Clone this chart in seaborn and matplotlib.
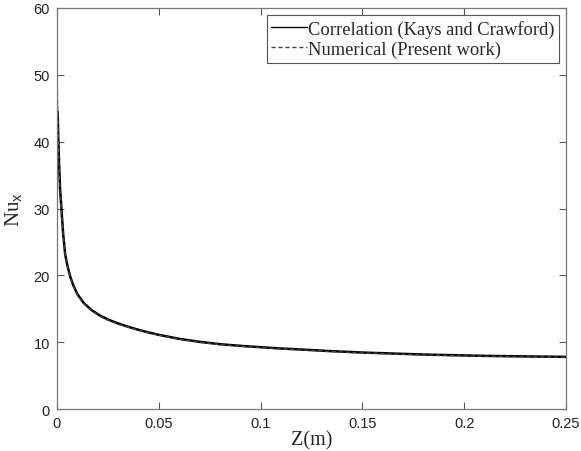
import numpy as np
import pandas as pd
import matplotlib
matplotlib.use('Agg')
import matplotlib.pyplot as plt
import seaborn as sns

# Correlation (Kays and Crawford)
corr_z = [0.0003, 0.0006, 0.001, 0.0015, 0.0022, 0.003, 0.004, 0.005, 0.0065, 0.008,
          0.01, 0.013, 0.017, 0.021, 0.025, 0.03, 0.035, 0.04, 0.045, 0.05,
          0.055, 0.06, 0.07, 0.08, 0.09, 0.1, 0.11, 0.12, 0.135, 0.15,
          0.165, 0.18, 0.195, 0.21, 0.23, 0.25]
corr_nu = [44.5, 41.0, 37.0, 33.0, 29.9, 26.3, 23.2, 21.6, 19.8, 18.5,
           17.2, 15.9, 14.8, 14.0, 13.4, 12.8, 12.3, 11.85, 11.45, 11.1,
           10.8, 10.5, 10.05, 9.7, 9.45, 9.25, 9.05, 8.9, 8.65, 8.45,
           8.3, 8.15, 8.05, 7.95, 7.87, 7.8]

# Numerical (Present work)
num_z = [0.0, 0.0002, 0.0005, 0.001, 0.0015, 0.0022, 0.003, 0.004, 0.005, 0.0065, 0.008,
         0.01, 0.013, 0.017, 0.021, 0.025, 0.03, 0.035, 0.04, 0.045, 0.05,
         0.055, 0.06, 0.07, 0.08, 0.09, 0.1, 0.11, 0.12, 0.135, 0.15,
         0.165, 0.18, 0.195, 0.21, 0.23, 0.25]
num_nu = [50.5, 47.5, 42.0, 36.8, 32.8, 29.7, 26.2, 23.1, 21.5, 19.7, 18.4,
          17.1, 15.8, 14.7, 13.9, 13.3, 12.7, 12.25, 11.8, 11.4, 11.05,
          10.75, 10.45, 10.0, 9.65, 9.4, 9.2, 9.0, 8.85, 8.6, 8.4,
          8.25, 8.1, 8.0, 7.9, 7.82, 7.75]

corr = pd.DataFrame({'z': corr_z, 'nu': corr_nu})
num = pd.DataFrame({'z': num_z, 'nu': num_nu})

sns.set_style('ticks')
plt.rcParams['font.family'] = ['Liberation Sans', 'DejaVu Sans']
plt.rcParams['mathtext.fontset'] = 'custom'
plt.rcParams['mathtext.sf'] = 'Liberation Sans'

fig = plt.figure(figsize=(5.81, 4.52), dpi=100)
ax = fig.add_axes([0.0981, 0.0929, 0.8761, 0.8872])

sns.lineplot(data=corr, x='z', y='nu', ax=ax, color='black', lw=1.8,
             label='Correlation (Kays and Crawford)')
sns.lineplot(data=num, x='z', y='nu', ax=ax, color='#444444', lw=1.0,
             linestyle=(0, (3, 2)), label='Numerical (Present work)')

ax.set_xlim(0, 0.25)
ax.set_ylim(0, 60)
ax.set_xticks([0, 0.05, 0.1, 0.15, 0.2, 0.25])
ax.set_xticklabels(['0', '0.05', '0.1', '0.15', '0.2', '0.25'])
ax.set_yticks([0, 10, 20, 30, 40, 50, 60])
ax.tick_params(direction='in', length=5, width=0.8, colors='#555555',
               labelcolor='#222222', labelsize=10.5, top=True, right=True, pad=5)
for s in ax.spines.values():
    s.set_visible(True)
    s.set_color('#777777')
    s.set_linewidth(0.9)

ax.set_xlabel('Z(m)', family='Liberation Serif', fontsize=14.5, labelpad=0)
ax.set_ylabel(r'Nu$_{\mathsf{x}}$', family='Liberation Serif', fontsize=15, labelpad=6)

leg = ax.legend(loc='upper right', prop={'family': 'Liberation Serif', 'size': 13.3},
                fancybox=False, framealpha=1, edgecolor='#555555',
                handlelength=1.9, handletextpad=0.05, borderpad=0.25,
                labelspacing=0.15, borderaxespad=0.4)
leg.get_frame().set_linewidth(0.8)
for h in leg.get_lines():
    h.set_linewidth(1.0)

fig.savefig('out.png', dpi=100)
